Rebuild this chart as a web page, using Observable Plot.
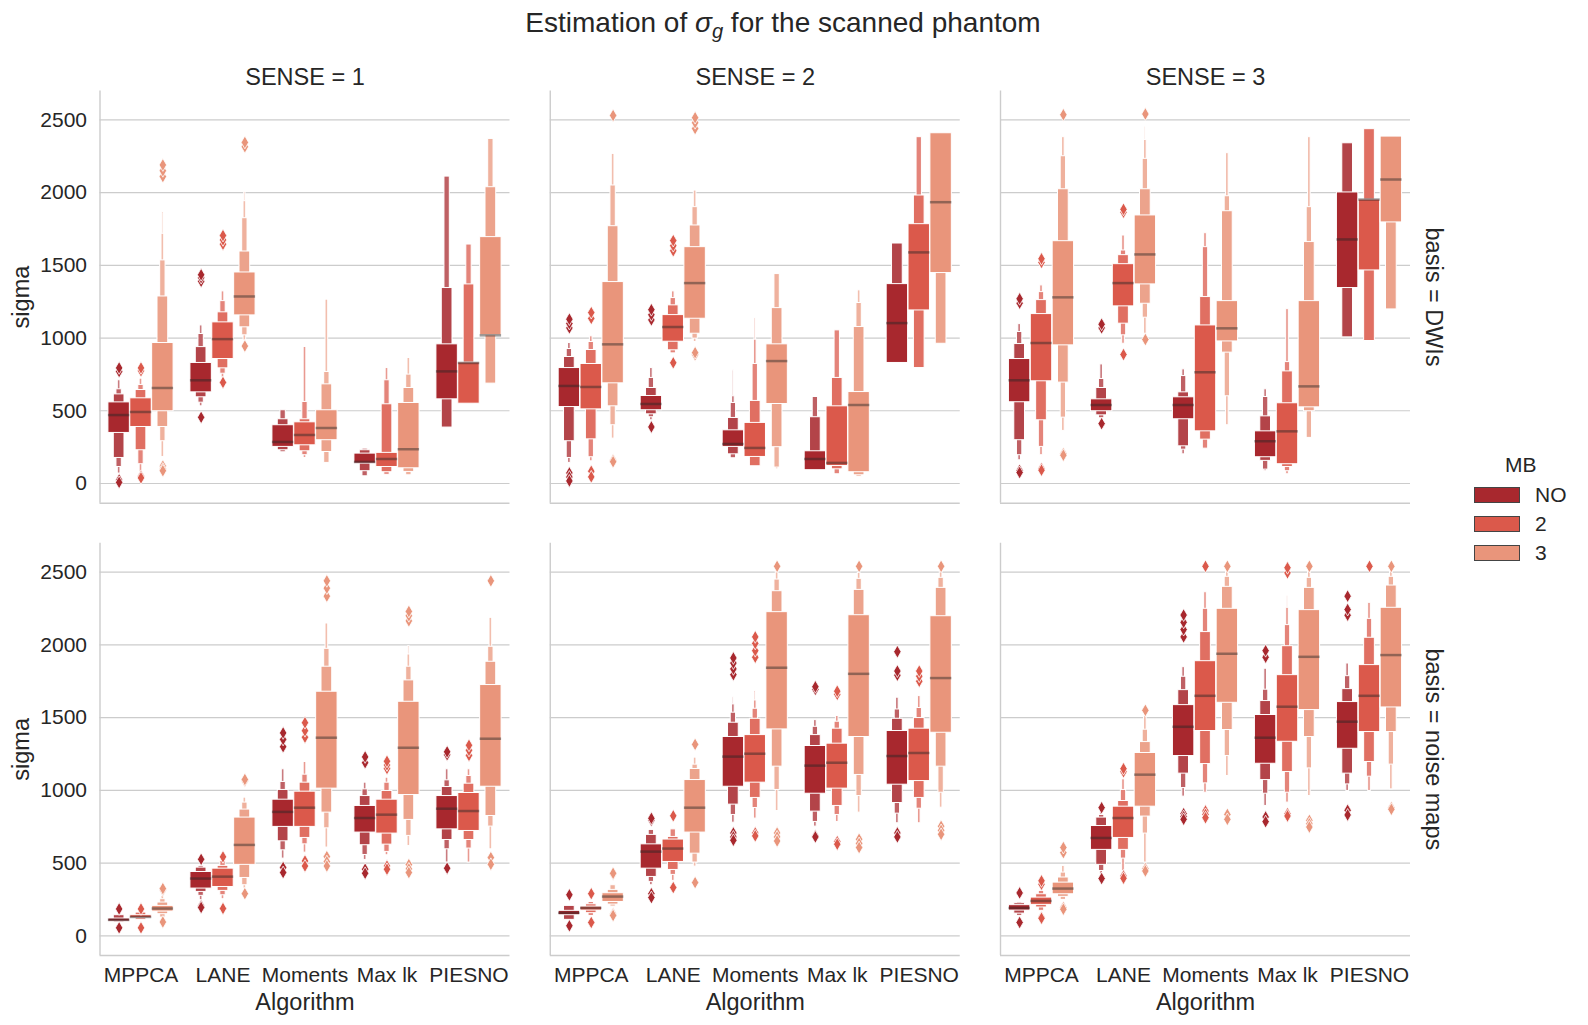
<!DOCTYPE html>
<html>
<head>
<meta charset="utf-8">
<script src="https://cdn.jsdelivr.net/npm/d3@7"></script>
<script src="https://cdn.jsdelivr.net/npm/@observablehq/plot@0.6"></script>
<style>
  body { margin: 0; background: #fff; }
  #fig { position: relative; width: 1588px; height: 1025px; font-family: "Liberation Sans", Arial, sans-serif; color: #262626; }
  #chart { position: absolute; left: 0; top: 0; }
  #title { position: absolute; left: 0; width: 1566px; top: 9px; text-align: center; font-size: 28px; line-height: 28px; white-space: nowrap; }
  #title .sub { position: relative; top: 0.32em; font-size: 0.72em; font-style: italic; }
  .leg { position: absolute; font-size: 21px; line-height: 21px; white-space: nowrap; }
  .patch { position: absolute; width: 44px; height: 14px; border: 1px solid #444; }
</style>
</head>
<body>
<div id="fig">
  <div id="chart"></div>
  <div id="title">Estimation of <i>σ</i><span class="sub">g</span> for the scanned phantom</div>
</div>
<script>
// categories
const algorithms = ["MPPCA", "LANE", "Moments", "Max lk", "PIESNO"];
const mbLevels = ["NO", "2", "3"];
const mbColors = ["#a8282e", "#db594b", "#e9957b"];
const senses = [1, 2, 3];
const bases = ["DWIs", "noise maps"];
const yTicks = [0, 500, 1000, 1500, 2000, 2500];

// one row per box: [algorithm, MB, median, lower letter values, upper letter values, outliers]
// lower/upper start at the quartiles and go outwards (eighths, sixteenths, ...)
const dwiSense1 = [
  ["MPPCA", "NO", 471, [348, 176, 114, 69], [558, 613, 648, 710], [770, 795, 25, 8]],
  ["MPPCA", "2", 492, [389, 229, 133, 80], [586, 643, 678, 721], [775, 795, 50, 39]],
  ["MPPCA", "3", 657, [497, 389, 291, 183], [966, 1286, 1534, 1717, 1866], [2110, 2150, 2190, 120, 100, 88]],
  ["LANE", "NO", 710, [627, 593, 556, 531], [829, 938, 1028, 1087], [1390, 1415, 1435, 455]],
  ["LANE", "2", 993, [856, 792, 755, 728], [1108, 1177, 1254, 1321], [1645, 1675, 1705, 695]],
  ["LANE", "3", 1286, [1156, 1074, 1019, 984], [1451, 1595, 1824, 1941, 2003], [2315, 2345, 945]],
  ["Moments", "NO", 286, [252, 229, 215], [401, 442, 504], []],
  ["Moments", "2", 334, [263, 222, 195, 176], [421, 442, 561, 939], []],
  ["Moments", "3", 382, [298, 217, 142], [504, 682, 767, 1264], []],
  ["Max lk", "NO", 149, [137, 85, 50], [206, 229, 240], []],
  ["Max lk", "2", 169, [114, 78, 60], [211, 545, 710, 794], []],
  ["Max lk", "3", 236, [105, 80, 57], [554, 657, 749, 863], []],
  ["PIESNO", "NO", 771, [579, 385], [957, 1344, 2110], []],
  ["PIESNO", "2", 829, [549], [832, 1369, 1643], []],
  ["PIESNO", "3", 1019, [1019, 687], [1694, 2037, 2369], []]
];
const dwiSense2 = [
  ["MPPCA", "NO", 671, [526, 291, 176, 142], [794, 870, 925, 966], [1070, 1100, 1130, 73, 45, 18]],
  ["MPPCA", "2", 664, [510, 304, 181, 153], [822, 918, 973, 1012], [1135, 1175, 85, 46]],
  ["MPPCA", "3", 957, [689, 531, 401, 309], [1385, 1769, 2049, 2266], [2530, 160, 150]],
  ["LANE", "NO", 547, [504, 476, 456, 435], [602, 657, 726, 794], [1125, 1160, 1195, 389]],
  ["LANE", "2", 1076, [975, 916, 895], [1158, 1225, 1275, 1321], [1600, 1635, 1670, 830]],
  ["LANE", "3", 1378, [1133, 1030, 996, 973], [1625, 1774, 1900, 2014], [2440, 2480, 2515, 885, 900]],
  ["Moments", "NO", 272, [252, 201, 174], [366, 451, 554, 600, 778], []],
  ["Moments", "2", 245, [183, 119], [417, 568, 822, 989, 1135], []],
  ["Moments", "3", 842, [547, 250, 110, 98], [957, 1206, 1440], []],
  ["Max lk", "NO", 169, [92], [222, 456, 595], []],
  ["Max lk", "2", 142, [121, 98, 64], [531, 726, 1053], []],
  ["Max lk", "3", 540, [78, 57, 46], [629, 1076, 1241, 1328], []],
  ["PIESNO", "NO", 1103, [829], [1371, 1650], []],
  ["PIESNO", "2", 1589, [1190, 794], [1783, 1980, 2381], []],
  ["PIESNO", "3", 1934, [1447, 961], [2408], []]
];
const dwiSense3 = [
  ["MPPCA", "NO", 710, [559, 298, 195, 160], [856, 959, 1042, 1096], [1240, 1270, 90, 76]],
  ["MPPCA", "2", 966, [703, 435, 252, 195], [1165, 1261, 1316, 1362], [1520, 1545, 103, 92]],
  ["MPPCA", "3", 1280, [950, 694, 453, 362], [1666, 2023, 2250, 2381], [2535, 206, 195]],
  ["LANE", "NO", 540, [497, 469, 449], [579, 657, 719, 819], [1070, 1095, 412]],
  ["LANE", "2", 1378, [1218, 1099, 1019, 961], [1508, 1570, 1602, 1705], [1865, 1885, 887]],
  ["LANE", "3", 1575, [1369, 1236, 1140, 1030], [1843, 2023, 2232, 2362, 2454], [2540, 990]],
  ["Moments", "NO", 540, [442, 256, 233, 201], [593, 627, 739, 785], []],
  ["Moments", "2", 765, [359, 302, 240], [1087, 1282, 1625, 1721], []],
  ["Moments", "3", 1067, [977, 900, 600, 401], [1254, 1872, 1975, 2271], []],
  ["Max lk", "NO", 291, [181, 156, 96, 85], [359, 462, 595, 648], []],
  ["Max lk", "2", 359, [133, 114, 85, 64], [552, 771, 835, 1199], []],
  ["Max lk", "3", 668, [524, 497, 314], [1254, 1660, 1900, 2381], []],
  ["PIESNO", "NO", 1678, [1344, 1005], [2001, 2339], []],
  ["PIESNO", "2", 1952, [1465, 980], [1952, 2436], []],
  ["PIESNO", "3", 2090, [1795, 1197], [2385], []]
];
const noiseSense1 = [
  ["MPPCA", "NO", 110, [98, 92], [119, 142], [185, 55]],
  ["MPPCA", "2", 130, [121, 110], [142, 160], [185, 55]],
  ["MPPCA", "3", 188, [167, 149, 126], [206, 229, 252, 275], [315, 325, 95]],
  ["LANE", "NO", 394, [325, 302, 275, 245], [439, 469, 481], [526, 205, 195]],
  ["LANE", "2", 407, [336, 309, 279, 252], [462, 481, 515], [543, 188]],
  ["LANE", "3", 625, [488, 398, 348, 325], [813, 868, 916, 950], [1065, 1075, 290]],
  ["Moments", "NO", 852, [749, 650, 588, 531], [936, 1003, 1058, 1145], [1300, 1350, 1395, 470, 435]],
  ["Moments", "2", 881, [749, 673, 629, 572], [991, 1053, 1108, 1195], [1365, 1410, 1465, 515, 480]],
  ["Moments", "3", 1362, [1012, 847, 739, 607], [1678, 1850, 1973, 2147], [2335, 2390, 2440, 545, 510, 480]],
  ["Max lk", "NO", 810, [710, 623, 556, 522], [893, 961, 1007, 1053], [1190, 1230, 458, 430]],
  ["Max lk", "2", 833, [703, 627, 577, 554], [936, 996, 1053, 1087], [1150, 1175, 1200, 480, 458]],
  ["Max lk", "3", 1293, [968, 797, 687, 618], [1609, 1756, 1850, 1934, 1991], [2165, 2200, 2230, 490, 460, 435]],
  ["PIESNO", "NO", 874, [732, 659, 595, 504], [961, 1023, 1069, 1145], [1245, 1265, 465]],
  ["PIESNO", "2", 858, [721, 659, 600, 504], [982, 1046, 1099, 1145], [1240, 1275, 1310]],
  ["PIESNO", "3", 1355, [1025, 824, 751, 595], [1724, 1884, 1987, 2186], [2440, 538, 492]]
];
const noiseSense2 = [
  ["MPPCA", "NO", 158, [142, 110], [172, 206], [282, 69]],
  ["MPPCA", "2", 192, [174, 156, 137], [201, 217, 233], [290, 92]],
  ["MPPCA", "3", 270, [233, 215, 201], [293, 316, 348], [425, 430, 150, 140]],
  ["LANE", "NO", 579, [462, 405, 371, 348], [629, 694, 728], [795, 808, 290, 263]],
  ["LANE", "2", 600, [508, 453, 419, 378], [662, 680, 732], [825, 332]],
  ["LANE", "3", 881, [710, 565, 504, 476], [1071, 1147, 1177, 1225], [1316, 366]],
  ["Moments", "NO", 1232, [1025, 902, 831, 778], [1367, 1465, 1534, 1591, 1641], [1795, 1835, 1875, 1910, 707, 680, 657]],
  ["Moments", "2", 1252, [1053, 948, 879, 806], [1380, 1492, 1561, 1618, 1682], [1915, 1960, 2010, 2055, 707, 687]],
  ["Moments", "3", 1843, [1419, 1163, 1003, 858], [2225, 2369, 2449, 2506], [2540, 707, 680, 652]],
  ["Max lk", "NO", 1170, [977, 854, 783, 751], [1305, 1380, 1437, 1483], [1694, 1712, 687, 680]],
  ["Max lk", "2", 1190, [1012, 893, 831, 783], [1321, 1424, 1472, 1511], [1660, 1682, 648, 630]],
  ["Max lk", "3", 1801, [1367, 1106, 961, 847], [2204, 2378, 2454, 2495], [2540, 664, 635, 607]],
  ["PIESNO", "NO", 1236, [1039, 913, 840, 774], [1408, 1492, 1556, 1637], [1792, 1820, 1953, 707, 680]],
  ["PIESNO", "2", 1257, [1064, 948, 874, 774], [1424, 1497, 1566, 1648], [1750, 1785, 1820]],
  ["PIESNO", "3", 1772, [1396, 1163, 984, 881], [2197, 2392, 2461, 2518], [2540, 753, 725, 698]]
];
const noiseSense3 = [
  ["MPPCA", "NO", 192, [174, 153, 137], [211, 224, 233], [295, 92]],
  ["MPPCA", "2", 240, [213, 195, 172], [263, 286, 309], [355, 378, 126, 121]],
  ["MPPCA", "3", 325, [286, 268, 247], [366, 401, 435, 481], [572, 607, 195, 183]],
  ["LANE", "NO", 673, [591, 488, 446, 423], [755, 813, 831, 852], [881, 394]],
  ["LANE", "2", 810, [673, 591, 531, 446], [888, 927, 1003, 1076], [1128, 1149, 412, 396]],
  ["LANE", "3", 1108, [888, 820, 703, 504], [1257, 1332, 1417, 1511], [1550, 462, 446]],
  ["Moments", "NO", 1437, [1236, 1115, 1016, 957], [1586, 1689, 1781, 1847], [2055, 2105, 2155, 2205, 840, 820, 801]],
  ["Moments", "2", 1650, [1408, 1181, 1048, 984], [1888, 2088, 2248, 2362], [2540, 858, 835, 812]],
  ["Moments", "3", 1939, [1602, 1415, 1236, 1099], [2248, 2399, 2468, 2518], [2540, 835, 801]],
  ["Max lk", "NO", 1362, [1183, 1071, 977, 893], [1518, 1614, 1692, 1836], [1915, 1960, 817, 785]],
  ["Max lk", "2", 1575, [1334, 1126, 984, 916], [1792, 1991, 2136, 2255, 2339], [2495, 2530, 840, 824]],
  ["Max lk", "3", 1918, [1552, 1367, 1151, 961], [2239, 2392, 2461, 2518], [2540, 794, 770, 748]],
  ["PIESNO", "NO", 1472, [1286, 1115, 1041, 996], [1607, 1696, 1785, 1872], [2204, 2243, 2335, 863, 831]],
  ["PIESNO", "2", 1650, [1401, 1195, 1094, 996], [1861, 2049, 2179, 2289], [2540]],
  ["PIESNO", "3", 1930, [1570, 1401, 1177, 1007], [2255, 2408, 2468, 2518], [2540, 881, 870]]
];

const panels = [
  {basis: "DWIs", sense: 1, rows: dwiSense1},
  {basis: "DWIs", sense: 2, rows: dwiSense2},
  {basis: "DWIs", sense: 3, rows: dwiSense3},
  {basis: "noise maps", sense: 1, rows: noiseSense1},
  {basis: "noise maps", sense: 2, rows: noiseSense2},
  {basis: "noise maps", sense: 3, rows: noiseSense3}
];

// letter-value boxes: each level is half as wide as the one inside it
// and a bit lighter (like seaborn's boxenplot)
const slot = 0.8 / mbLevels.length;
const boxWidth = slot * 0.98;
const boxes = [], levels = [], fliers = [];
for (const p of panels) {
  for (const [alg, mb, med, lo, hi, out] of p.rows) {
    const m = mbLevels.indexOf(mb);
    const cx = algorithms.indexOf(alg) + (m - 1) * slot;
    const lighten = d3.interpolateRgb(mbColors[m], "#ffffff");
    const k = Math.max(lo.length, hi.length);
    for (let j = 0; j < k; j++) {
      const half = boxWidth * Math.pow(2, -j) / 2;
      levels.push({
        basis: p.basis, sense: p.sense, level: j,
        x1: cx - half, x2: cx + half,
        y1: lo[Math.min(j, lo.length - 1)],
        y2: hi[Math.min(j, hi.length - 1)],
        fill: lighten(0.13 * j)
      });
    }
    boxes.push({basis: p.basis, sense: p.sense, x1: cx - boxWidth / 2, x2: cx + boxWidth / 2, med});
    for (const v of out) fliers.push({basis: p.basis, sense: p.sense, x: cx, y: v, fill: mbColors[m]});
  }
}
// outer levels first so the inner ones sit on top
levels.sort((a, b) => b.level - a.level);

const yDomain = [-135, 2699];
const labelSize = 23.5;

const chart = Plot.plot({
  width: 1588,
  height: 1025,
  marginLeft: 99.5,
  marginRight: 178,
  marginTop: 90.4,
  marginBottom: 70,
  style: {fontFamily: '"Liberation Sans", Arial, sans-serif', fontSize: "21px", color: "#262626", background: "transparent", overflow: "visible"},
  fx: {domain: senses, paddingInner: 0.0894, paddingOuter: 0, round: false, axis: null},
  fy: {domain: bases, paddingInner: 0.0884, paddingOuter: 0, round: false, axis: null},
  x: {domain: [-0.5, 4.5]},
  y: {domain: yDomain},
  marks: [
    Plot.gridY(yTicks, {stroke: "#cccccc", strokeOpacity: 1, strokeWidth: 1.1}),
    Plot.ruleX([-0.5], {stroke: "#cccccc", strokeWidth: 1.4}),
    Plot.ruleY([yDomain[0]], {stroke: "#cccccc", strokeWidth: 1.4}),
    Plot.rect(levels, {fx: "sense", fy: "basis", x1: "x1", x2: "x2", y1: "y1", y2: "y2", fill: "fill", stroke: "white", strokeWidth: 1}),
    Plot.dot(fliers, {fx: "sense", fy: "basis", x: "x", y: "y", fill: "fill", symbol: "diamond", r: 3.9, stroke: "white", strokeWidth: 0.8}),
    Plot.ruleY(boxes, {fx: "sense", fy: "basis", y: "med", x1: "x1", x2: "x2", stroke: "#262626", strokeOpacity: 0.45, strokeWidth: 2.5}),
    Plot.axisY(yTicks, {tickSize: 0, tickPadding: 13, fontSize: 21, tickFormat: d => String(d), label: null}),
    Plot.axisX(d3.range(algorithms.length), {tickSize: 0, tickPadding: 12, fontSize: 21, tickFormat: i => algorithms[i], label: null}),
    // facet titles and axis labels
    Plot.text(senses.map(s => ({sense: s, basis: "DWIs"})), {
      fx: "sense", fy: "basis", text: d => `SENSE = ${d.sense}`,
      frameAnchor: "top", lineAnchor: "bottom", dy: -6, fontSize: labelSize
    }),
    Plot.text(bases.map(b => ({sense: 3, basis: b})), {
      fx: "sense", fy: "basis", text: d => `basis = ${d.basis}`,
      frameAnchor: "right", textAnchor: "middle", lineAnchor: "middle", rotate: 90, dx: 23, fontSize: labelSize
    }),
    Plot.text(bases.map(b => ({sense: 1, basis: b})), {
      fx: "sense", fy: "basis", text: () => "sigma",
      frameAnchor: "left", textAnchor: "middle", lineAnchor: "middle", rotate: -90, dx: -79, fontSize: labelSize
    }),
    Plot.text(senses.map(s => ({sense: s, basis: "noise maps"})), {
      fx: "sense", fy: "basis", text: () => "Algorithm",
      frameAnchor: "bottom", lineAnchor: "middle", dy: 47, fontSize: labelSize
    })
  ]
});
document.getElementById("chart").appendChild(chart);

// legend on the right, built by hand
const fig = document.getElementById("fig");
const legTitle = document.createElement("div");
legTitle.className = "leg";
legTitle.textContent = "MB";
legTitle.style.left = "1505px";
legTitle.style.top = "454px";
fig.appendChild(legTitle);
mbLevels.forEach((mb, i) => {
  const cy = 495 + i * 29;
  const patch = document.createElement("div");
  patch.className = "patch";
  patch.style.left = "1474px";
  patch.style.top = (cy - 8) + "px";
  patch.style.background = mbColors[i];
  fig.appendChild(patch);
  const lab = document.createElement("div");
  lab.className = "leg";
  lab.textContent = mb;
  lab.style.left = "1535px";
  lab.style.top = (cy - 11) + "px";
  fig.appendChild(lab);
});
</script>
</body>
</html>
